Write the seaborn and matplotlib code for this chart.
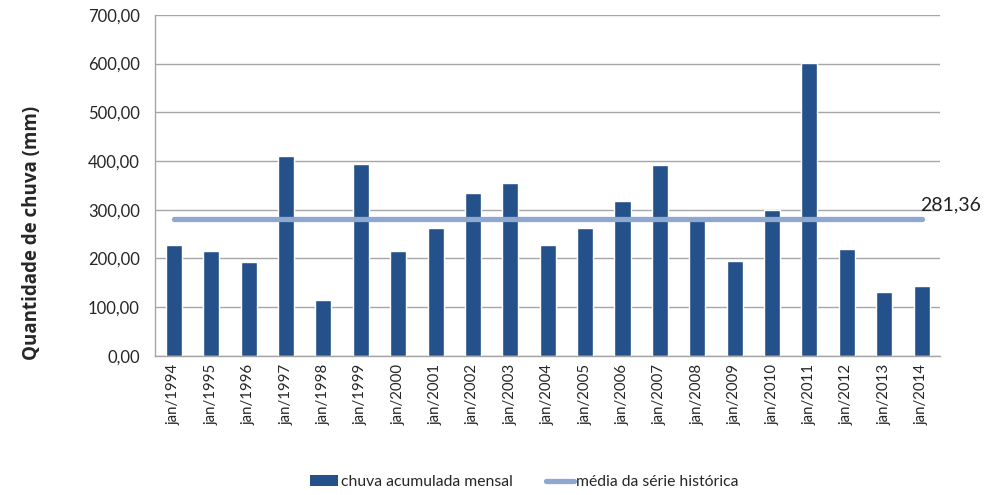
import matplotlib
matplotlib.use('Agg')
import matplotlib.pyplot as plt
import seaborn as sns
import pandas as pd
from matplotlib.patches import Patch
from matplotlib.lines import Line2D

anos = ['jan/1994', 'jan/1995', 'jan/1996', 'jan/1997', 'jan/1998', 'jan/1999', 'jan/2000',
        'jan/2001', 'jan/2002', 'jan/2003', 'jan/2004', 'jan/2005', 'jan/2006', 'jan/2007',
        'jan/2008', 'jan/2009', 'jan/2010', 'jan/2011', 'jan/2012', 'jan/2013', 'jan/2014']
chuva = [228, 216, 193, 411, 115, 393, 216, 263, 335, 354, 228,
         263, 318, 391, 279, 195, 300, 602, 220, 131, 144]
media = 281.36

cor_barra = '#25518A'
cor_media = '#8EA8CF'

sns.set_style('white')
plt.rcParams['font.family'] = ['Lato', 'DejaVu Sans']

df = pd.DataFrame({'ano': anos, 'chuva': chuva})

fig = plt.figure(figsize=(9.95, 4.95), dpi=100)
ax = fig.add_axes([0.156, 0.281, 0.789, 0.689])

sns.barplot(data=df, x='ano', y='chuva', color=cor_barra, width=0.43, saturation=1, ax=ax)

df_media = pd.DataFrame({'x': range(len(anos)), 'y': [media] * len(anos)})
sns.lineplot(data=df_media, x='x', y='y', color=cor_media, linewidth=3.8,
             solid_capstyle='round', ax=ax)

ax.text(len(anos) - 1 - 0.05, media + 12, f'{media:.2f}'.replace('.', ','),
        fontsize=14, ha='left', va='bottom', color='#222222')

ax.set_ylim(0, 700)
ax.set_xlim(-0.5, len(anos) - 0.5)
ax.set_yticks(range(0, 701, 100))
ax.set_yticklabels([f'{v:.2f}'.replace('.', ',') for v in range(0, 701, 100)], fontsize=12)
ax.set_xticks(range(len(anos)))
ax.set_xticklabels(anos, rotation=90, fontsize=10.8)
ax.tick_params(axis='x', length=0, pad=6)
ax.tick_params(axis='y', length=0, pad=11)
ax.set_xlabel('')
ax.set_ylabel('Quantidade de chuva (mm)', fontsize=13.5, fontweight='bold',
              family=['Open Sans', 'DejaVu Sans'])
ax.yaxis.set_label_coords(-0.144, 0.36)

ax.yaxis.grid(True, color='#A6A6A6', linewidth=1)
ax.set_axisbelow(True)
for s in ['top', 'right']:
    ax.spines[s].set_visible(False)
for s in ['left', 'bottom']:
    ax.spines[s].set_color('#A6A6A6')
    ax.spines[s].set_linewidth(1)

handles = [Patch(facecolor=cor_barra, edgecolor='none'),
           Line2D([0], [0], color=cor_media, linewidth=3.8, solid_capstyle='round')]
fig.legend(handles, ['chuva acumulada mensal', 'média da série histórica'],
           loc='center', bbox_to_anchor=(0.527, 0.026), ncol=2, frameon=False,
           fontsize=11.3, handlelength=1.8, handletextpad=0.15, columnspacing=2.1)

fig.savefig('out.png', dpi=100)
